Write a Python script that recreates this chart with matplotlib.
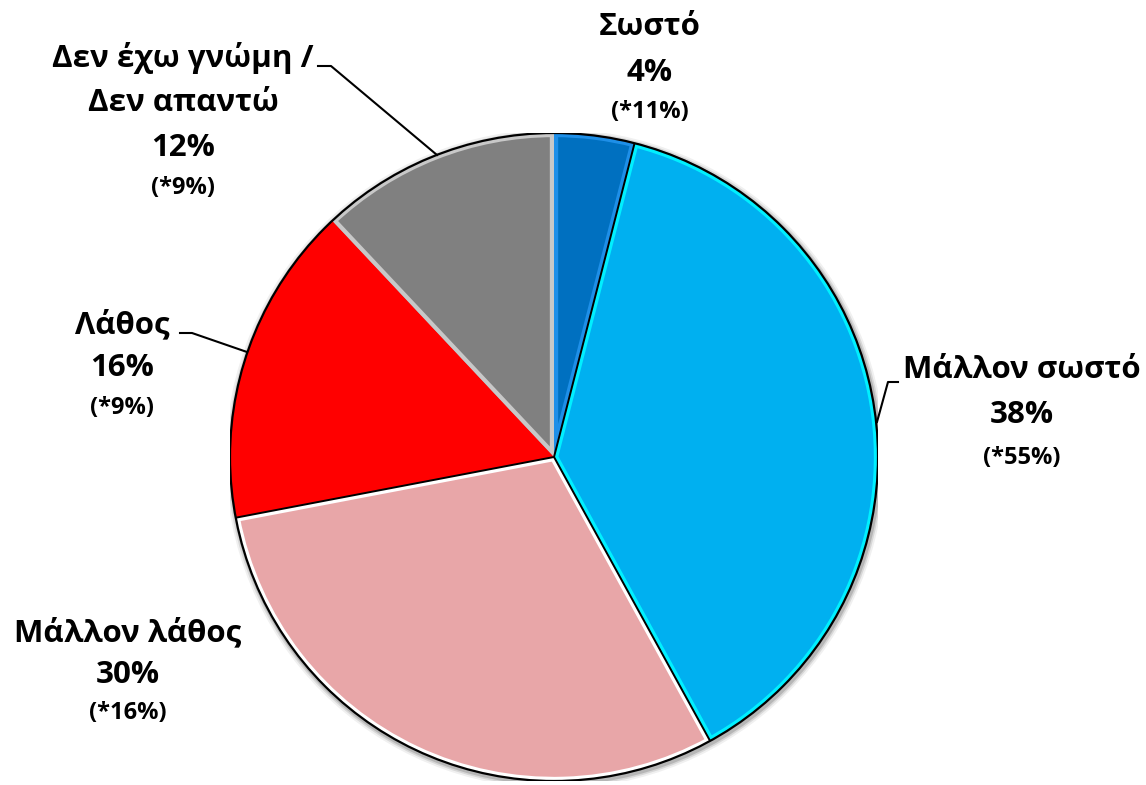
import matplotlib
matplotlib.use("Agg")
import matplotlib.pyplot as plt
from matplotlib.patches import Circle, Wedge
import numpy as np

categories = ["Σωστό", "Μάλλον σωστό", "Μάλλον λάθος", "Λάθος", "Δεν έχω γνώμη /\nΔεν απαντώ"]
values = [4, 38, 30, 16, 12]
previous = [11, 55, 16, 9, 9]
colors = ["#0070C0", "#00B0F0", "#E8A6A8", "#FF0000", "#808080"]
inner_edges = ["#1E8FE8", "#00F0FF", "#FFFFFF", "#FF0000", "#C8C8C8"]

FONT = ["Open Sans", "DejaVu Sans"]

W, H = 1146, 785
CX, CY, R = 554, 457, 324

fig = plt.figure(figsize=(W / 100, H / 100), dpi=100)
ax = fig.add_axes([(CX - R) / W, (H - CY - R) / H, 2 * R / W, 2 * R / H])
ax.axis("off")


def px(x, y):
    return (x - CX) / R, (CY - y) / R


# soft shadow
for dr, a in [(0.018, 0.06), (0.012, 0.10), (0.007, 0.15)]:
    ax.add_patch(Circle((0.004, -0.006), 1 + dr, color="black", alpha=a, lw=0, zorder=0))

wedges, _ = ax.pie(values, colors=colors, startangle=90, counterclock=False,
                   radius=1, center=(0, 0), frame=False,
                   wedgeprops=dict(linewidth=0))
for w, ec in zip(wedges, inner_edges):
    w.set_zorder(1)
    b = Wedge(w.center, w.r, w.theta1, w.theta2, facecolor="none", edgecolor=ec, lw=6, zorder=2)
    ax.add_patch(b)
    b.set_clip_path(w)

ax.set_xlim(-1, 1)
ax.set_ylim(-1, 1)
ax.set_aspect("equal")

# dark boundary lines
cum = np.cumsum([0] + values)
for k in [1, 2, 3]:
    ang = np.deg2rad(90 - 360 * cum[k] / 100)
    ax.plot([0, np.cos(ang)], [0, np.sin(ang)], color="black", lw=1.4, zorder=3,
            solid_capstyle="butt")
ax.add_patch(Circle((0, 0), 1.0, fill=False, ec="black", lw=1.6, zorder=4))


def leader(points):
    xs, ys = zip(*[px(*p) for p in points])
    ax.plot(xs, ys, color="black", lw=1.5, zorder=5, clip_on=False)


leader([(318, 66), (331, 66), (437, 155)])
leader([(180, 333), (192, 333), (247, 352)])
leader([(898, 382), (888, 382), (877, 422)])

big = 22.5
small = 17


def label(xc, ys, texts, sizes):
    for y, t, s in zip(ys, texts, sizes):
        x, yy = px(xc, y)
        ax.text(x, yy, t, ha="center", va="center", fontsize=s, fontweight="bold",
                family=FONT, clip_on=False, color="black")


label(650, [27, 73, 112], [categories[0], f"{values[0]}%", f"(*{previous[0]}%)"], [big, big, small])
label(1022, [370, 415, 458], [categories[1], f"{values[1]}%", f"(*{previous[1]}%)"], [big, big, small])
label(128, [633, 675, 713], [categories[2], f"{values[2]}%", f"(*{previous[2]}%)"], [big, big, small])
label(122, [325, 368, 408], [categories[3], f"{values[3]}%", f"(*{previous[3]}%)"], [big, big, small])
l1, l2 = categories[4].split("\n")
label(183, [58, 103, 148, 188], [l1, l2, f"{values[4]}%", f"(*{previous[4]}%)"], [big, big, big, small])

fig.savefig("out.png", dpi=100)
